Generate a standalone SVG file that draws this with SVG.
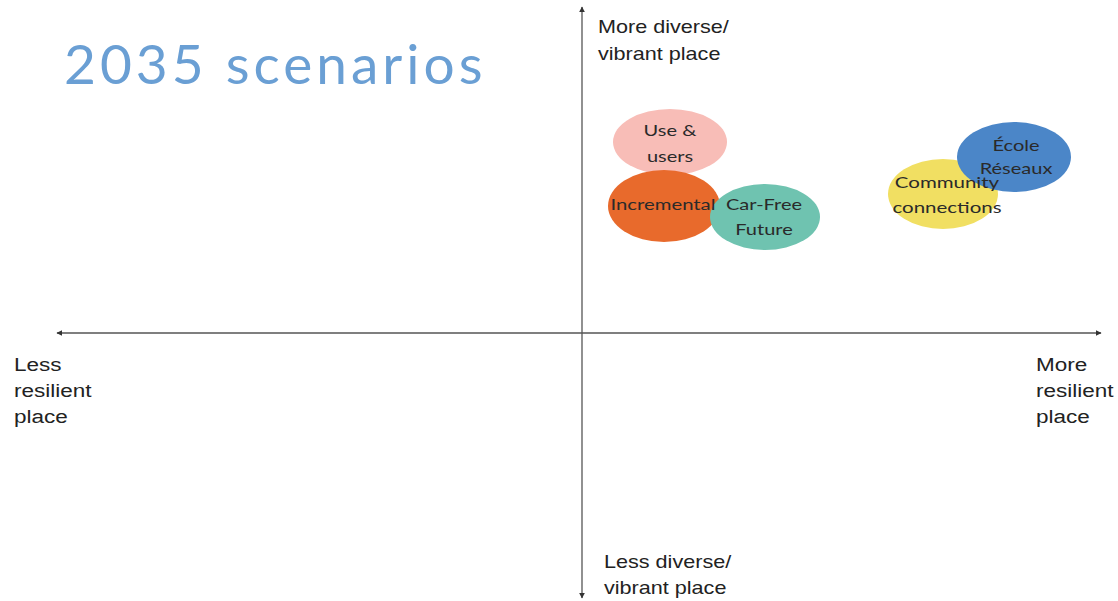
<svg xmlns="http://www.w3.org/2000/svg" width="1118" height="601" viewBox="0 0 1118 601">
  <style>
    .axis { stroke: #555; stroke-width: 1.3; fill: none; }
    .axlbl { font-family: "Liberation Sans", Arial, sans-serif; font-size: 18px; fill: #222; }
    .lbl { font-family: "Lato", "Noto Sans", sans-serif; font-size: 16px; fill: #2a2a2a; text-anchor: middle; }
    .title { font-family: "Lato", "Noto Sans", sans-serif; font-size: 55px; fill: #6a9fd4; letter-spacing: 4px; }
  </style>
  <defs>
    <marker id="arrow" viewBox="0 0 10 10" refX="9" refY="5" markerWidth="6" markerHeight="6" orient="auto-start-reverse" markerUnits="userSpaceOnUse">
      <path d="M0,0 L10,5 L0,10 z" fill="#333"/>
    </marker>
  </defs>

  <rect width="1118" height="601" fill="#ffffff"/>

  <text class="title" x="64" y="84">2035 scenarios</text>

  <!-- axes -->
  <g id="connectors">
    <line class="axis" x1="582" y1="598" x2="582" y2="7" marker-start="url(#arrow)" marker-end="url(#arrow)"/>
    <line class="axis" x1="57" y1="333" x2="1101" y2="333" marker-start="url(#arrow)" marker-end="url(#arrow)"/>
  </g>

  <!-- axis labels (slightly widened lettering) -->
  <g id="axis-top" transform="translate(598 0) scale(1.2 1)">
    <text class="axlbl" x="0" y="33">More diverse/</text>
    <text class="axlbl" x="0" y="60">vibrant place</text>
  </g>
  <g id="axis-bottom" transform="translate(604 0) scale(1.2 1)">
    <text class="axlbl" x="0" y="568">Less diverse/</text>
    <text class="axlbl" x="0" y="594">vibrant place</text>
  </g>
  <g id="axis-left" transform="translate(14 0) scale(1.25 1)">
    <text class="axlbl" x="0" y="371">Less</text>
    <text class="axlbl" x="0" y="397">resilient</text>
    <text class="axlbl" x="0" y="423">place</text>
  </g>
  <g id="axis-right" transform="translate(1036 0) scale(1.25 1)">
    <text class="axlbl" x="0" y="371">More</text>
    <text class="axlbl" x="0" y="397">resilient</text>
    <text class="axlbl" x="0" y="423">place</text>
  </g>

  <!-- scenario bubbles -->
  <g id="use-users">
    <ellipse cx="670" cy="142" rx="57" ry="33" fill="#f8bdb7"/>
  </g>
  <g id="incremental">
    <ellipse cx="664" cy="206" rx="56" ry="36" fill="#e86a2c"/>
  </g>
  <g id="car-free-future">
    <ellipse cx="765" cy="217" rx="55" ry="33" fill="#6fc3b0"/>
  </g>
  <g id="community-connections">
    <ellipse cx="943" cy="194" rx="55" ry="35" fill="#f1df62"/>
  </g>
  <g id="ecole-reseaux">
    <ellipse cx="1014" cy="157" rx="57" ry="35" fill="#4b86c8"/>
  </g>

  <!-- bubble labels -->
  <g id="labels">
    <g transform="translate(670 0) scale(1.25 1)">
      <text class="lbl" x="0" y="136">Use &amp;</text>
      <text class="lbl" x="0" y="162">users</text>
    </g>
    <g transform="translate(663 0) scale(1.27 1)">
      <text class="lbl" x="0" y="210">Incremental</text>
    </g>
    <g transform="translate(764 0) scale(1.25 1)">
      <text class="lbl" x="0" y="210">Car-Free</text>
      <text class="lbl" x="0" y="235">Future</text>
    </g>
    <g transform="translate(1016 0) scale(1.25 1)">
      <text class="lbl" x="0" y="151">École</text>
      <text class="lbl" x="0" y="174">Réseaux</text>
    </g>
    <g transform="translate(947 0) scale(1.28 1)">
      <text class="lbl" x="0" y="188">Community</text>
      <text class="lbl" x="0" y="213">connections</text>
    </g>
  </g>
</svg>
